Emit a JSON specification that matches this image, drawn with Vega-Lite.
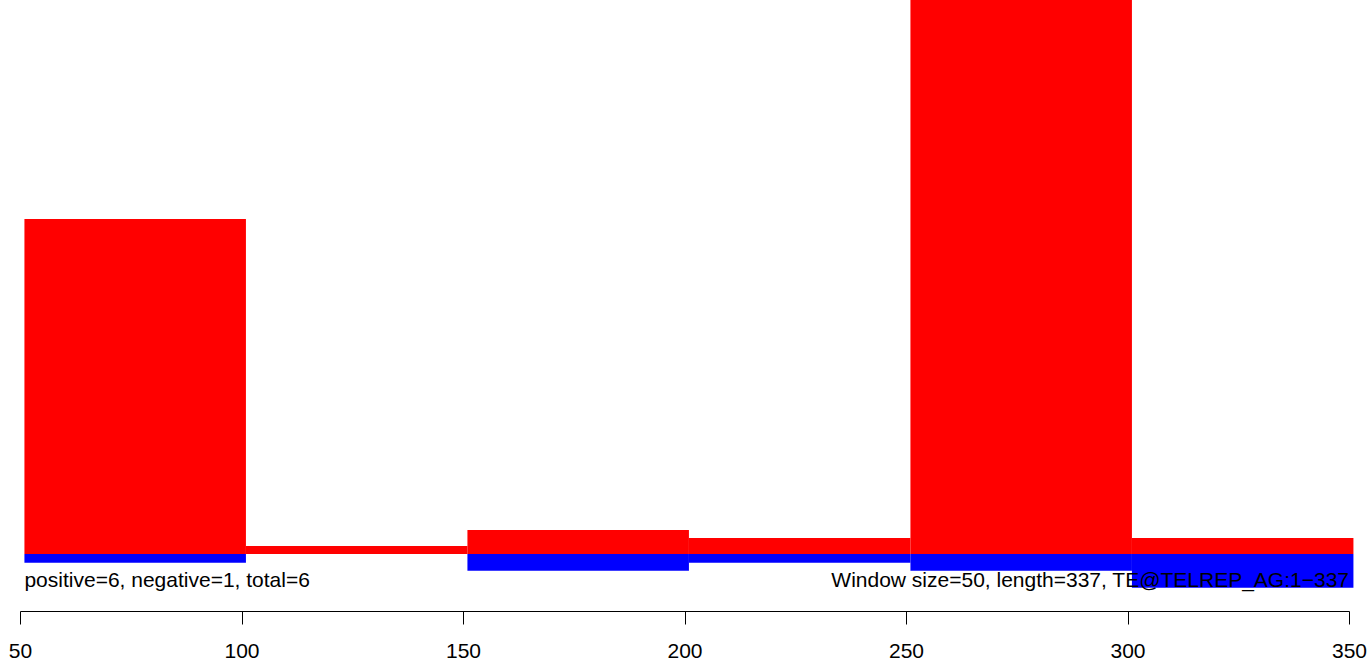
{
  "$schema": "https://vega.github.io/schema/vega-lite/v6.json",
  "width": 1329,
  "height": 611,
  "autosize": {"type": "none"},
  "padding": {"left": 20, "top": 0, "right": 21, "bottom": 48},
  "background": "white",
  "config": {"view": {"stroke": null}},
  "data": {
    "values": [
      {"start": 51, "end": 101, "pos": 40.36, "neg": -1.05},
      {"start": 101, "end": 151, "pos": 0.96, "neg": 0},
      {"start": 151, "end": 201, "pos": 2.89, "neg": -2.01},
      {"start": 201, "end": 251, "pos": 1.93, "neg": -1.05},
      {"start": 251, "end": 301, "pos": 75, "neg": -2.01},
      {"start": 301, "end": 351, "pos": 1.93, "neg": -4.06}
    ]
  },
  "layer": [
    {
      "mark": {"type": "rect", "color": "#ff0000"},
      "encoding": {
        "x": {
          "field": "start", "type": "quantitative",
          "scale": {"domain": [50, 350], "nice": false, "zero": false},
          "axis": {
            "title": null, "grid": false,
            "values": [50, 100, 150, 200, 250, 300, 350],
            "domainColor": "black", "tickColor": "black", "tickSize": 13,
            "labelColor": "black", "labelFont": "Liberation Sans", "labelFontSize": 21,
            "labelPadding": 16, "labelFlush": false, "labelOverlap": false
          }
        },
        "x2": {"field": "end"},
        "y": {
          "field": "pos", "type": "quantitative",
          "scale": {"domain": [-6.87, 66.75], "nice": false, "zero": false},
          "axis": null
        },
        "y2": {"datum": 0}
      }
    },
    {
      "mark": {"type": "rect", "color": "#0000ff"},
      "encoding": {
        "x": {"field": "start", "type": "quantitative"},
        "x2": {"field": "end"},
        "y": {"field": "neg", "type": "quantitative"},
        "y2": {"datum": 0}
      }
    },
    {
      "data": {"values": [{"label": "positive=6, negative=1, total=6"}]},
      "mark": {"type": "text", "align": "left", "baseline": "alphabetic", "font": "Liberation Sans", "fontSize": 21, "color": "black"},
      "encoding": {
        "x": {"datum": 51, "type": "quantitative"},
        "y": {"datum": -3.98, "type": "quantitative"},
        "text": {"field": "label", "type": "nominal"}
      }
    },
    {
      "data": {"values": [{"label": "Window size=50, length=337, TE@TELREP_AG:1−337"}]},
      "mark": {"type": "text", "align": "right", "baseline": "alphabetic", "font": "Liberation Sans", "fontSize": 21, "color": "black"},
      "encoding": {
        "x": {"datum": 350, "type": "quantitative"},
        "y": {"datum": -3.98, "type": "quantitative"},
        "text": {"field": "label", "type": "nominal"}
      }
    }
  ]
}
